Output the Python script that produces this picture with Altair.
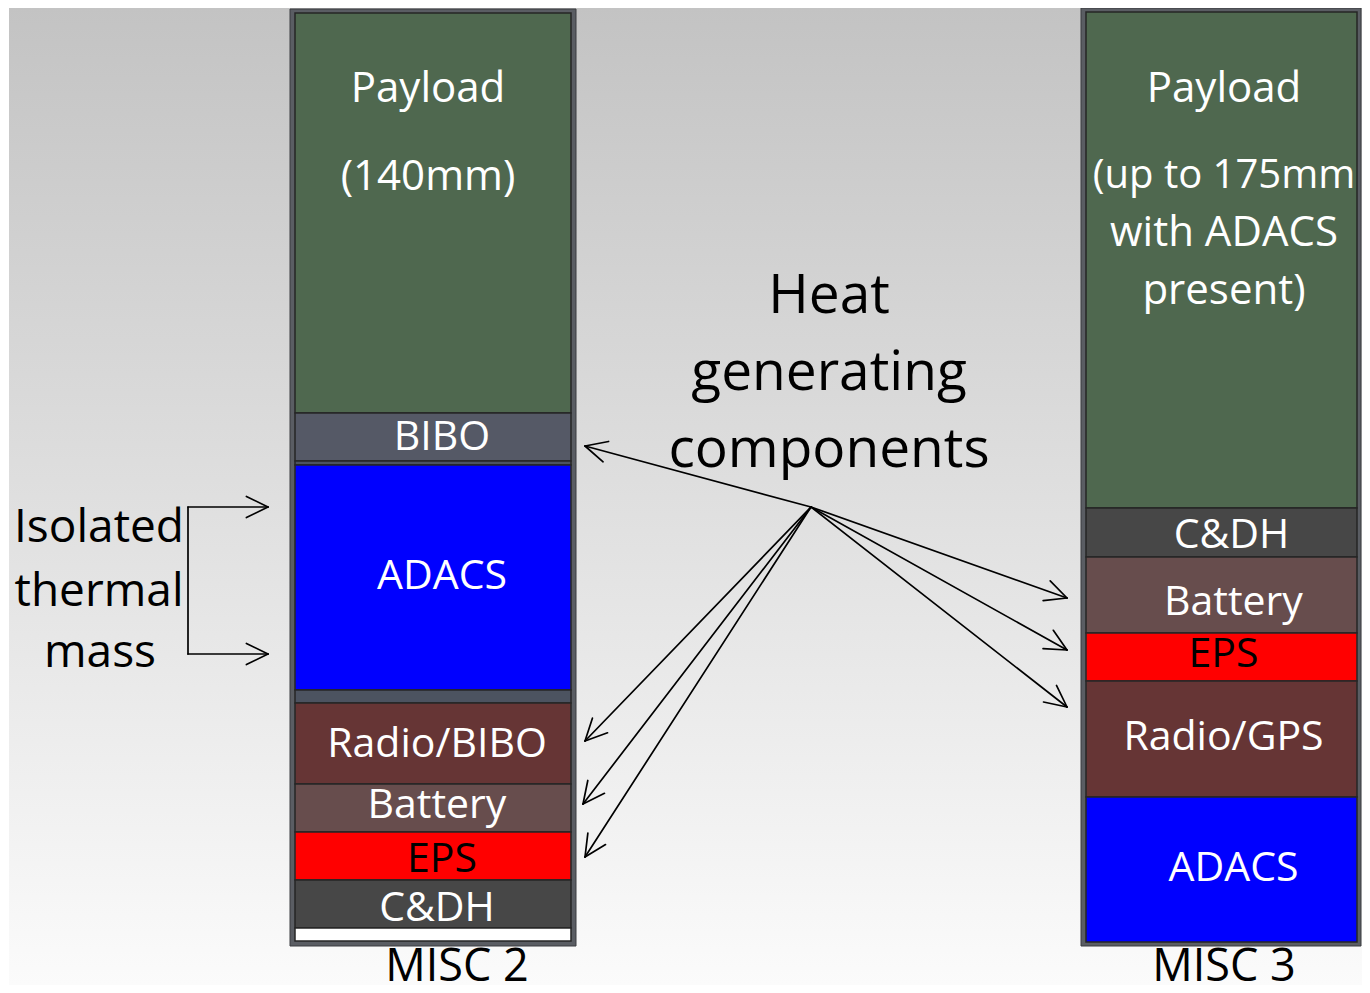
import altair as alt
import numpy as np
import pandas as pd

# ---------------- data ----------------
column_names = ["MISC 2", "MISC 3"]

# stacks from top to bottom, heights in drawing units
misc2_parts = ["Payload", "BIBO", "gap", "ADACS", "gap", "Radio/BIBO", "Battery", "EPS", "C&DH", "blank"]
misc2_heights = [400, 48, 4, 225, 13, 81, 48, 48, 48, 13]
misc3_parts = ["Payload", "C&DH", "Battery", "EPS", "Radio/GPS", "ADACS"]
misc3_heights = [496, 49, 76, 48, 116, 145]

payload_notes_misc2 = ["Payload", "(140mm)"]
payload_notes_misc3 = ["Payload", "(up to 175mm", "with ADACS", "present)"]

heat_title = ["Heat", "generating", "components"]
isolated_title = ["Isolated", "thermal", "mass"]

# heat arrows: from hub to component targets
heat_hub = (811, 507)
heat_targets_x = [585, 585, 583, 585, 1067, 1067, 1067]
heat_targets_y = [446, 741, 804, 857, 598, 650, 707]

# isolated thermal mass bracket
bracket_x = [188, 268]
bracket_y = [507, 654]

# ---------------- layout / style ----------------
COLS = {
    "MISC 2": dict(x0=295, x1=571, top=13, frame=(290, 576, 9, 946), name_x=457),
    "MISC 3": dict(x0=1086, x1=1357, top=12, frame=(1081, 1361, 8, 946), name_x=1224),
}
PART_COLORS = {
    "Payload": "#4f684f", "BIBO": "#555966", "gap": "#4c5360", "ADACS": "#0000ff",
    "Radio/BIBO": "#663535", "Radio/GPS": "#663535", "Battery": "#674d4d",
    "EPS": "#ff0000", "C&DH": "#474747", "blank": "#ffffff",
}
LABEL_OFFSETS = {
    "MISC 2": {"BIBO": (9, 13), "ADACS": (9, 11), "Radio/BIBO": (4, 13),
               "Battery": (4, 10), "EPS": (9, 16), "C&DH": (4, 17)},
    "MISC 3": {"C&DH": (10, 15), "Battery": (12, 20), "EPS": (2, 10),
               "Radio/GPS": (2, 11), "ADACS": (12, 11)},
}
PAYLOAD_NOTE_POS = {"MISC 2": (428, [102, 190]), "MISC 3": (1224, [102, 188, 246, 304])}
PAYLOAD_NOTE_SIZE = {"MISC 2": [42, 42], "MISC 3": [42, 40, 42, 42]}
FONT = "Open Sans"

# page pixel p (from the chart's 8px page offset) maps 1:1 onto reference pixel p
X_DOMAIN = [8, 1362]
Y_DOMAIN = [8, 985]


def X(f):
    return alt.X(f"{f}:Q", scale=alt.Scale(domain=X_DOMAIN, nice=False, zero=False), axis=None)


def Y(f):
    return alt.Y(f"{f}:Q", scale=alt.Scale(domain=Y_DOMAIN, nice=False, zero=False, reverse=True), axis=None)


# ---------------- tables ----------------
bg = pd.DataFrame({"x0": [9], "x1": [1362], "y0": [8], "y1": [985]})

frames = pd.DataFrame([
    {"x0": COLS[c]["frame"][0], "x1": COLS[c]["frame"][1], "y0": COLS[c]["frame"][2], "y1": COLS[c]["frame"][3]}
    for c in column_names
])

seg_rows, label_rows = [], []
for col, parts, heights in [("MISC 2", misc2_parts, misc2_heights), ("MISC 3", misc3_parts, misc3_heights)]:
    cfg = COLS[col]
    tops = cfg["top"] + np.concatenate([[0], np.cumsum(heights)[:-1]])
    for p, h, t in zip(parts, heights, tops):
        seg_rows.append({"x0": cfg["x0"], "x1": cfg["x1"], "y0": t, "y1": t + h, "fill": PART_COLORS[p]})
        if p in LABEL_OFFSETS[col]:
            dx, dy = LABEL_OFFSETS[col][p]
            label_rows.append({"x": (cfg["x0"] + cfg["x1"]) / 2 + dx, "y": t + h / 2 + dy, "text": p,
                               "color": "#000000" if p == "EPS" else "#ffffff", "size": 41})
    nx, ny = PAYLOAD_NOTE_POS[col]
    notes = payload_notes_misc2 if col == "MISC 2" else payload_notes_misc3
    for t, yy, sz in zip(notes, ny, PAYLOAD_NOTE_SIZE[col]):
        label_rows.append({"x": nx, "y": yy, "text": t, "color": "#ffffff", "size": sz})
    label_rows.append({"x": cfg["name_x"], "y": 981, "text": col, "color": "#000000", "size": 45})

for t, yy in zip(heat_title, [313, 390, 467]):
    label_rows.append({"x": 829, "y": yy, "text": t, "color": "#000000", "size": 55})
for t, yy, xx in zip(isolated_title, [542, 606, 667], [99, 99, 100]):
    label_rows.append({"x": xx, "y": yy, "text": t, "color": "#000000", "size": 46})

segments = pd.DataFrame(seg_rows)
labels = pd.DataFrame(label_rows)

# line segments (arrows + bracket) and arrowheads
lines, heads = [], []


def add_arrow(xs, ys, xt, yt, with_shaft=True):
    if with_shaft:
        lines.append({"x0": xs, "y0": ys, "x1": xt, "y1": yt})
    ang = np.arctan2(ys - yt, xs - xt)
    for s in (-1, 1):
        a = ang + s * np.deg2rad(26)
        heads.append({"x0": xt, "y0": yt, "x1": xt + 24 * np.cos(a), "y1": yt + 24 * np.sin(a)})


for tx, ty in zip(heat_targets_x, heat_targets_y):
    add_arrow(heat_hub[0], heat_hub[1], tx, ty)

lines.append({"x0": bracket_x[0], "y0": bracket_y[0], "x1": bracket_x[0], "y1": bracket_y[1]})
for by in bracket_y:
    add_arrow(bracket_x[0], by, bracket_x[1], by)

lines_df = pd.DataFrame(lines + heads)

# ---------------- chart ----------------
grad = alt.Gradient(
    gradient="linear",
    stops=[alt.GradientStop(color="#c3c3c3", offset=0), alt.GradientStop(color="#fbfbfb", offset=1)],
    x1=0, x2=0, y1=0, y2=1,
)

bg_layer = alt.Chart(bg).mark_rect(fill=grad, strokeWidth=0).encode(
    x=X("x0"), x2=alt.X2("x1:Q"), y=Y("y0"), y2=alt.Y2("y1:Q"))

frame_layer = alt.Chart(frames).mark_rect(fill="#5a5d63", stroke="#3a3c40", strokeWidth=1).encode(
    x=X("x0"), x2=alt.X2("x1:Q"), y=Y("y0"), y2=alt.Y2("y1:Q"))

seg_layer = alt.Chart(segments).mark_rect(stroke="#262626", strokeWidth=1.5).encode(
    x=X("x0"), x2=alt.X2("x1:Q"), y=Y("y0"), y2=alt.Y2("y1:Q"),
    fill=alt.Fill("fill:N", scale=None))

line_layer = alt.Chart(lines_df).mark_rule(color="black", strokeWidth=1.7, strokeCap="round").encode(
    x=X("x0"), x2=alt.X2("x1:Q"), y=Y("y0"), y2=alt.Y2("y1:Q"))

text_layer = alt.Chart(labels).mark_text(font=FONT, align="center", baseline="alphabetic").encode(
    x=X("x"), y=Y("y"), text="text:N",
    color=alt.Color("color:N", scale=None),
    size=alt.Size("size:Q", scale=None))

chart = alt.layer(bg_layer, frame_layer, seg_layer, line_layer, text_layer).properties(
    width=1354, height=977, padding=0, autosize=alt.AutoSizeParams(type="none"),
    background="#ffffff",
).configure_view(strokeWidth=0)

chart.save("out.html", embed_options={"renderer": "svg", "actions": False})
